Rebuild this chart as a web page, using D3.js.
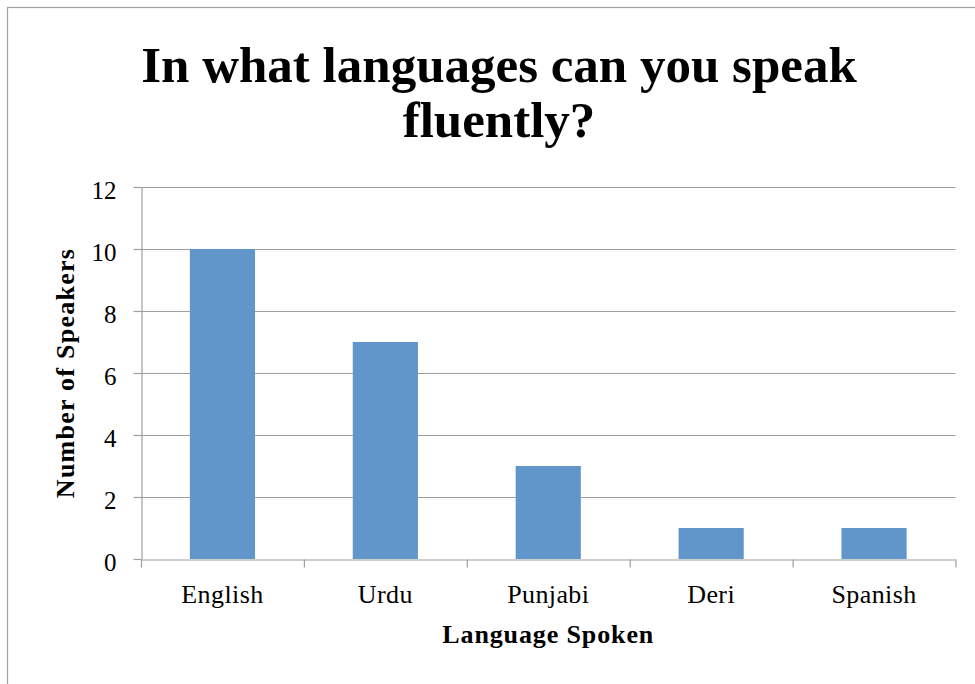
<!DOCTYPE html>
<html>
<head>
<meta charset="utf-8">
<script src="https://cdn.jsdelivr.net/npm/d3@7"></script>
<style>
  html, body { margin: 0; padding: 0; background: #fff; }
  svg { display: block; }
  text { font-family: "Liberation Serif", "Times New Roman", serif; fill: #000; }
</style>
</head>
<body>
<script>
// Survey results: languages spoken fluently
const languages = ["English", "Urdu", "Punjabi", "Deri", "Spanish"];
const speakers = [10, 7, 3, 1, 1];
const yTicks = [0, 2, 4, 6, 8, 10, 12];
const titleLines = ["In what languages can you speak", "fluently?"];
const xTitle = "Language Spoken";
const yTitle = "Number of Speakers";

const W = 975, H = 684;
const plot = { left: 141, right: 955.5, top: 187, bottom: 559 };
const barColor = "#6096ca";
const gridColor = "#9e9e9e";

const svg = d3.select("body").append("svg")
  .attr("width", W).attr("height", H);

svg.append("rect").attr("width", W).attr("height", H).attr("fill", "#fff");

// chart frame (runs off the right and bottom edges)
svg.append("rect")
  .attr("x", 7.5).attr("y", 7.5)
  .attr("width", W + 40).attr("height", H + 40)
  .attr("fill", "none").attr("stroke", "#a3a3a3").attr("stroke-width", 1.2);

const x = d3.scaleBand()
  .domain(languages)
  .range([plot.left, plot.right])
  .paddingInner(0.6)
  .paddingOuter(0.3);

const y = d3.scaleLinear()
  .domain([0, 12])
  .range([plot.bottom, plot.top]);

// stretch text with letter spacing to a target width
function fitWidth(sel, target) {
  sel.each(function () {
    const n = this.getNumberOfChars();
    const w = this.getComputedTextLength();
    if (n > 1) d3.select(this).attr("letter-spacing", ((target - w) / (n - 1)).toFixed(2) + "px");
  });
}

// horizontal gridlines
svg.append("g")
  .selectAll("line")
  .data(yTicks.filter(d => d > 0))
  .join("line")
  .attr("x1", plot.left).attr("x2", plot.right)
  .attr("y1", d => Math.round(y(d)) + 0.5).attr("y2", d => Math.round(y(d)) + 0.5)
  .attr("stroke", gridColor).attr("stroke-width", 1.2);

// bars
svg.append("g")
  .selectAll("rect")
  .data(languages.map((l, i) => ({ l, v: speakers[i] })))
  .join("rect")
  .attr("x", d => x(d.l))
  .attr("width", x.bandwidth())
  .attr("y", d => y(d.v))
  .attr("height", d => y(0) - y(d.v))
  .attr("fill", barColor);

// y axis
const yAxis = svg.append("g")
  .attr("transform", `translate(${plot.left + 0.5},0)`)
  .call(d3.axisLeft(y).tickValues(yTicks).tickSize(8).tickPadding(17).tickSizeOuter(0));
yAxis.select(".domain").attr("stroke", gridColor).attr("stroke-width", 1.2);
yAxis.selectAll(".tick line").attr("stroke", gridColor).attr("stroke-width", 1.2);
yAxis.selectAll(".tick text")
  .attr("font-size", 25).attr("font-family", "Liberation Serif").attr("dy", "11px");

// x axis: category boundary ticks
const xb = d3.scaleLinear().domain([0, languages.length]).range([plot.left, plot.right]);
const xTickAxis = svg.append("g")
  .attr("transform", `translate(0,${plot.bottom + 0.5})`)
  .call(d3.axisBottom(xb).tickValues(d3.range(languages.length + 1)).tickSize(8).tickSizeOuter(0).tickFormat(""));
xTickAxis.select(".domain").attr("stroke", gridColor).attr("stroke-width", 1.2);
xTickAxis.selectAll(".tick line").attr("stroke", gridColor).attr("stroke-width", 1.2);

// x axis: category labels
const xAxis = svg.append("g")
  .attr("transform", `translate(0,${plot.bottom})`)
  .call(d3.axisBottom(x).tickSize(0).tickPadding(0));
xAxis.select(".domain").remove();
xAxis.selectAll(".tick text")
  .attr("font-size", 26).attr("font-family", "Liberation Serif")
  .attr("dy", "44px").attr("letter-spacing", "0.4px");

// chart title
svg.append("g").selectAll("text")
  .data(titleLines)
  .join("text")
  .attr("x", 499)
  .attr("y", (d, i) => 82 + i * 55)
  .attr("text-anchor", "middle")
  .attr("font-size", 51).attr("font-weight", "bold")
  .text(d => d);

// axis titles
svg.append("text")
  .attr("x", (plot.left + plot.right) / 2).attr("y", 643)
  .attr("text-anchor", "middle")
  .attr("font-size", 26).attr("font-weight", "bold")
  .text(xTitle)
  .call(fitWidth, 211);

svg.append("text")
  .attr("transform", `translate(74,${(plot.top + plot.bottom) / 2}) rotate(-90)`)
  .attr("text-anchor", "middle")
  .attr("font-size", 26).attr("font-weight", "bold")
  .text(yTitle)
  .call(fitWidth, 249);
</script>
</body>
</html>
